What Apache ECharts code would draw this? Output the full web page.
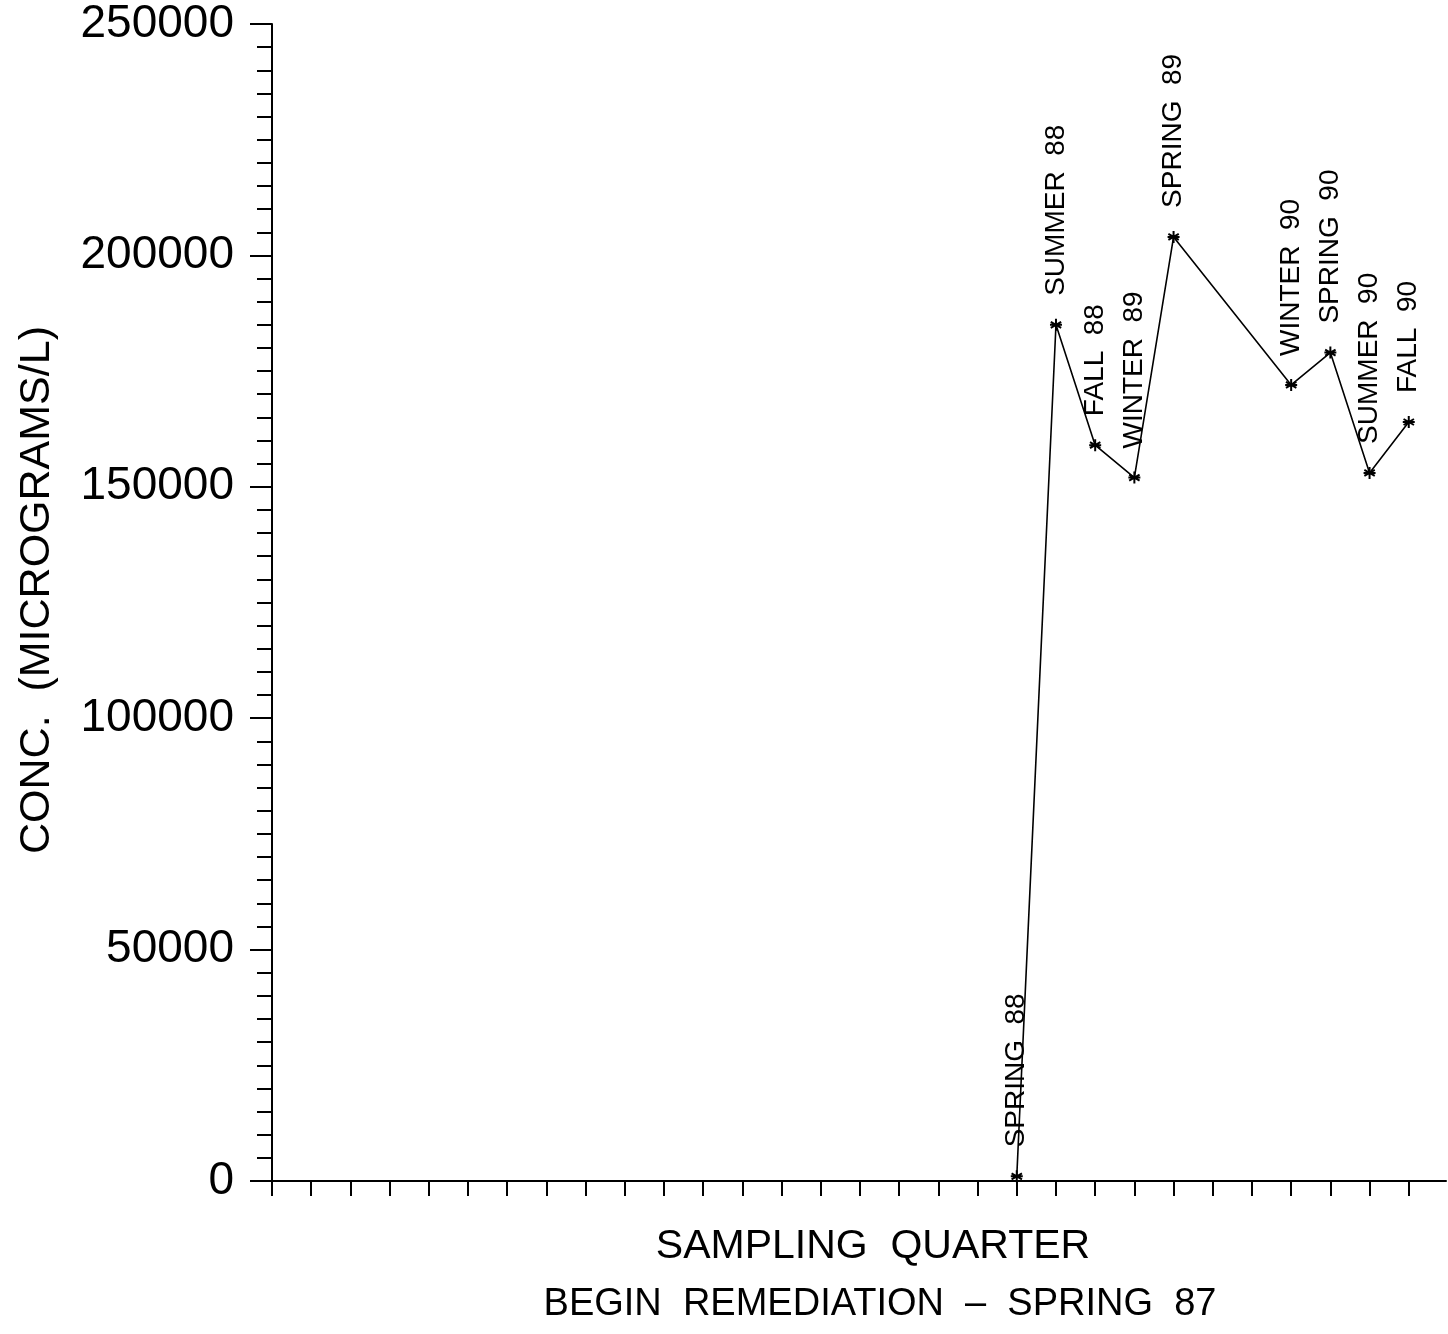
<!DOCTYPE html>
<html>
<head>
<meta charset="utf-8">
<script src="https://cdn.jsdelivr.net/npm/echarts@6/dist/echarts.min.js"></script>
<style>
html,body{margin:0;padding:0;background:#fff;}
#chart{width:1448px;height:1334px;}
</style>
</head>
<body>
<div id="chart"></div>
<script>
// Data
const quarterIndex = [19, 20, 21, 22, 23, 26, 27, 28, 29];
const quarterNames = ['SPRING  88', 'SUMMER  88', 'FALL  88', 'WINTER  89', 'SPRING  89', 'WINTER  90', 'SPRING  90', 'SUMMER  90', 'FALL  90'];
const concValues = [1000, 185000, 159000, 152000, 204000, 172000, 179000, 153000, 164000];
const xTickValues = [0,1,2,3,4,5,6,7,8,9,10,11,12,13,14,15,16,17,18,19,20,21,22,23,24,25,26,27,28,29];
const yTitle = 'CONC.  (MICROGRAMS/L)';
const xTitle = 'SAMPLING  QUARTER';
const xSubTitle = 'BEGIN  REMEDIATION  \u2013  SPRING  87';

const FONT = '"Liberation Sans", Arial, sans-serif';
const chart = echarts.init(document.getElementById('chart'), null, {renderer: 'canvas'});

const seriesData = quarterIndex.map((q, i) => ({value: [q, concValues[i]], name: quarterNames[i]}));

chart.setOption({
  backgroundColor: '#fff',
  animation: false,
  grid: {left: 272, right: 2, top: 24, bottom: 153, containLabel: false},
  xAxis: {
    type: 'value',
    min: 0,
    max: 29.95,
    interval: 1,
    axisLine: {show: true, lineStyle: {color: '#000', width: 2}},
    axisTick: {show: true, length: 15, lineStyle: {color: '#000', width: 2}, customValues: xTickValues},
    axisLabel: {show: false},
    splitLine: {show: false}
  },
  yAxis: {
    type: 'value',
    min: 0,
    max: 250000,
    interval: 50000,
    axisLine: {show: true, lineStyle: {color: '#000', width: 2}},
    axisTick: {show: true, length: 22, lineStyle: {color: '#000', width: 2}},
    minorTick: {show: true, splitNumber: 10, length: 15, lineStyle: {color: '#000', width: 2}},
    axisLabel: {show: true, margin: 38, color: '#000', fontSize: 46, fontFamily: FONT,
      formatter: v => String(v)},
    splitLine: {show: false},
    minorSplitLine: {show: false}
  },
  graphic: [
    {type: 'text', x: 37, y: 590, rotation: Math.PI / 2,
      style: {text: yTitle, font: '43px ' + FONT, fill: '#000', align: 'center', verticalAlign: 'middle'}},
    {type: 'text', x: 873, y: 1247,
      style: {text: xTitle, font: '41px ' + FONT, fill: '#000', align: 'center', verticalAlign: 'middle'}},
    {type: 'text', x: 880, y: 1305,
      style: {text: xSubTitle, font: '38px ' + FONT, fill: '#000', align: 'center', verticalAlign: 'middle'}}
  ],
  series: [{
    type: 'line',
    data: seriesData,
    symbol: 'path://M5,0L5,10M0.67,2.5L9.33,7.5M0.67,7.5L9.33,2.5M0,5L10,5',
    symbolSize: 12,
    showAllSymbol: true,
    lineStyle: {color: '#000', width: 1.6},
    itemStyle: {color: '#000', borderColor: '#000', borderWidth: 2},
    label: {
      show: true,
      formatter: p => p.name,
      position: 'top',
      distance: 22,
      rotate: 90,
      align: 'left',
      verticalAlign: 'middle',
      color: '#000',
      fontSize: 28,
      fontFamily: FONT
    },
    emphasis: {disabled: true}
  }]
});
</script>
</body>
</html>
